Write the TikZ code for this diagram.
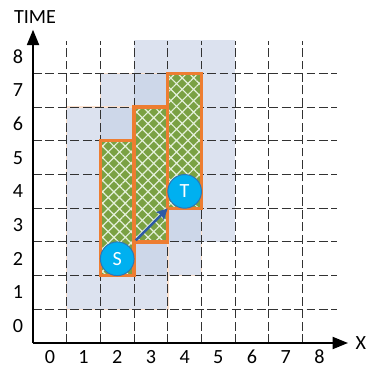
\documentclass[tikz,border=0pt]{standalone}
\usepackage{fontspec}
\setmainfont{Carlito}
\definecolor{halofill}{RGB}{196,207,229}
\definecolor{haloedge}{RGB}{250,224,206}
\definecolor{cellgreen}{RGB}{122,161,67}
\definecolor{hatchcol}{RGB}{228,240,218}
\definecolor{cellorange}{RGB}{237,125,49}
\definecolor{evtblue}{RGB}{0,176,240}
\definecolor{evtedge}{RGB}{46,117,182}
\definecolor{arrblue}{RGB}{46,90,165}
\definecolor{gridgray}{RGB}{50,50,50}
\usetikzlibrary{arrows.meta,patterns.meta}
\newcommand{\lblfont}{\fontsize{17}{20}\selectfont}
\tikzset{
  halo/.style={fill=halofill,fill opacity=0.6,draw=#1,line width=1.2pt},
  halo/.default=haloedge,
  gridline/.style={gridgray,line width=0.9pt,dash pattern=on 7.5pt off 3pt},
  cell/.style={preaction={fill=cellgreen},
               pattern={Hatch[angle=45,distance=6.8pt,line width=1pt]},
               pattern color=hatchcol,draw=cellorange,line width=2.8pt},
  axis/.style={line width=2pt,-{Triangle[length=13pt,width=10pt]}},
  evt/.style={circle,fill=evtblue,draw=evtedge,line width=0.8pt,
              minimum size=1cm,inner sep=0pt,text=white,font=\lblfont},
  arr/.style={-{Stealth[length=9pt,width=9pt,inset=1.5pt]},line width=2.1pt,arrblue},
  lbl/.style={font=\lblfont,inner sep=0pt},
}
\begin{document}
\begin{tikzpicture}
    \useasboundingbox (-1.48,-1.42) rectangle (9.53,9.68);

    \path[halo=none] (2.5,2.5) rectangle (5.5,8.5);
    \path[halo] (1.5,1.5) rectangle (4.5,7.5);
    \path[halo] (0.5,0.5) rectangle (3.5,6.5);

    \foreach \k in {0.5,1.5,...,7.5}{
      \draw[gridline] (\k,-0.5) -- (\k,8.45);
      \draw[gridline] (-0.5,\k) -- (8.52,\k);
    }

    \draw[cell] (1.5,1.5) rectangle (2.5,5.5);
    \draw[cell] (2.5,2.5) rectangle (3.5,6.5);
    \draw[cell] (3.5,3.5) rectangle (4.5,7.5);

    \coordinate (O) at (-0.5,-0.5);
    \coordinate (xend) at (8.85,-0.5);
    \coordinate (yend) at (-0.5,8.8);
    \draw[axis] (O) -- (xend);
    \draw[axis] (O) -- (yend);
    \node[lbl] (xlab) at (9.23,-0.5) {X};
    \node[lbl] (ylab) at (-0.44,9.16) {TIME};

    \foreach \i in {0,...,8}{
      \node[lbl] (xl\i) at (\i,-0.92) {\i};
      \node[lbl] (yl\i) at (-0.95,\i) {\i};
    }

    \node[evt] (S) at (2,2) {S};
    \node[evt] (T) at (4,4) {T};
    \draw[arr,shorten <=0.26cm,shorten >=0.2cm] (S) -- (T);
\end{tikzpicture}
\end{document}
